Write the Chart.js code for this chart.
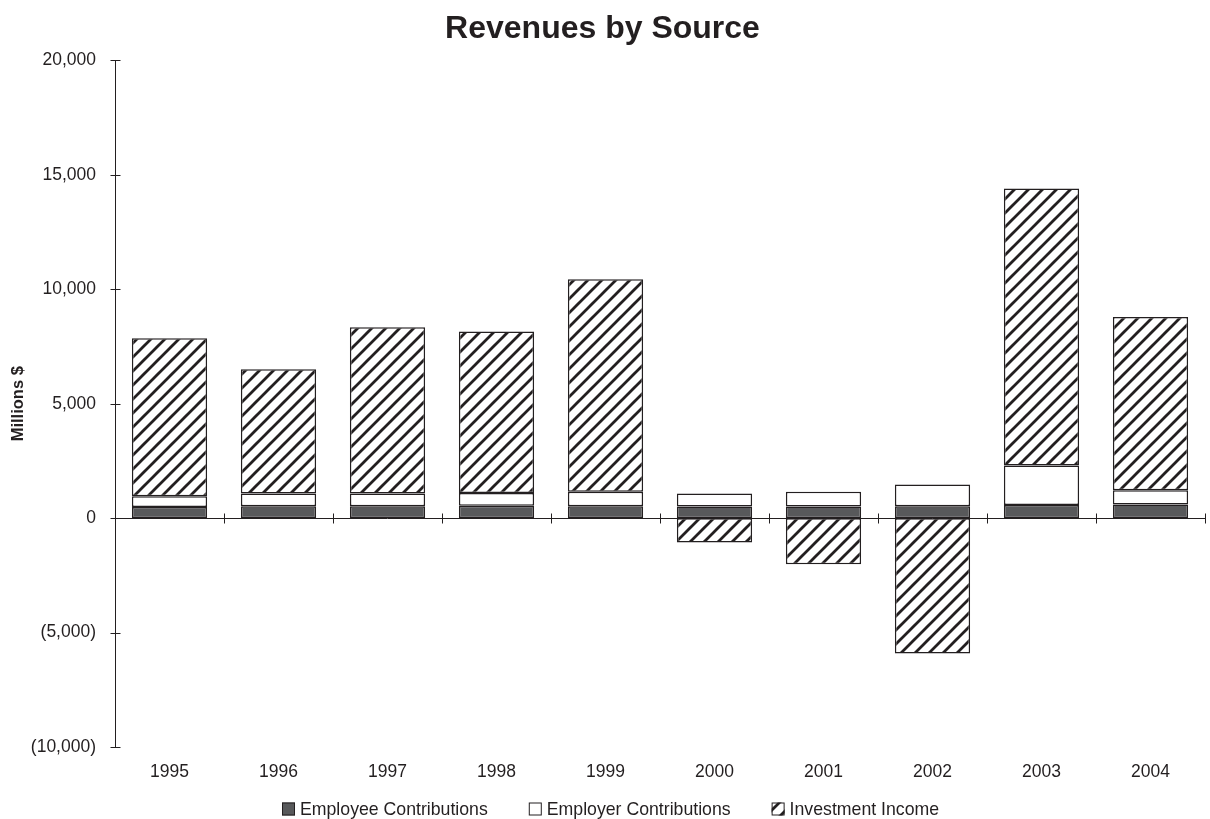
<!DOCTYPE html>
<html>
<head>
<meta charset="utf-8">
<title>Revenues by Source</title>
<script src="https://cdn.jsdelivr.net/npm/chart.js@4.4.1/dist/chart.umd.min.js"></script>
<style>
  html, body { margin: 0; padding: 0; background: #fff; }
  #wrap { width: 1210px; height: 819px; }
</style>
</head>
<body>
<div id="wrap"><canvas id="revChart" width="1210" height="819"></canvas></div>
<script>
const years = ['1995', '1996', '1997', '1998', '1999', '2000', '2001', '2002', '2003', '2004'];
const employeeContrib = [490, 520, 520, 540, 520, 510, 510, 520, 570, 600];
const employerContrib = [470, 560, 560, 560, 630, 570, 640, 950, 1730, 620];
const investmentIncome = [6900, 5430, 7260, 7050, 9290, -1060, -2010, -5910, 12100, 7570];
const yTicks = [-10000, -5000, 0, 5000, 10000, 15000, 20000];

const INK = '#231f20';
const FONT = '"Liberation Sans", Arial, Helvetica, sans-serif';

// diagonal hatch used for investment income
function hatch() {
  const s = 14;
  const c = document.createElement('canvas');
  c.width = s; c.height = s;
  const g = c.getContext('2d');
  g.fillStyle = '#fff';
  g.fillRect(0, 0, s, s);
  g.strokeStyle = INK;
  g.lineWidth = 2.8;
  g.beginPath();
  g.moveTo(-2, s + 2); g.lineTo(s + 2, -2);
  g.moveTo(-2, 2); g.lineTo(2, -2);
  g.moveTo(s - 2, s + 2); g.lineTo(s + 2, s - 2);
  g.stroke();
  return g.createPattern(c, 'repeat');
}

function fmt(v) {
  const s = Math.abs(v).toLocaleString('en-US');
  return v < 0 ? '(' + s + ')' : s;
}

// zero line with crossing ticks, and crossing ticks on the value axis
const axisMarks = {
  id: 'axisMarks',
  beforeDatasetsDraw(chart) {
    const { ctx, chartArea, scales } = chart;
    const xs = scales.x, ys = scales.y;
    const y0 = Math.round(ys.getPixelForValue(0)) + 0.5;
    ctx.save();
    ctx.strokeStyle = INK;
    ctx.lineWidth = 1;
    ctx.beginPath();
    ctx.moveTo(chartArea.left, y0);
    ctx.lineTo(chartArea.right, y0);
    for (let i = 0; i <= years.length; i++) {
      const x = Math.round(xs.getPixelForValue(i - 0.5)) + 0.5;
      ctx.moveTo(x, y0 - 5);
      ctx.lineTo(x, y0 + 5);
    }
    const ax = Math.round(chartArea.left) + 0.5;
    yTicks.forEach(v => {
      const y = Math.round(ys.getPixelForValue(v)) + 0.5;
      ctx.moveTo(ax - 5, y);
      ctx.lineTo(ax + 5, y);
    });
    ctx.stroke();
    ctx.restore();
  }
};

// legend row under the year labels, boxes filled like the datasets
const bottomLegend = {
  id: 'bottomLegend',
  afterDraw(chart) {
    const { ctx } = chart;
    const box = 13, gap = 5, between = 41, midY = 809;
    let x = 282;
    ctx.save();
    ctx.font = '17.7px ' + FONT;
    ctx.textBaseline = 'middle';
    chart.data.datasets.forEach(ds => {
      ctx.fillStyle = ds.backgroundColor;
      ctx.fillRect(x, midY - box / 2, box, box);
      ctx.strokeStyle = INK;
      ctx.lineWidth = 1;
      ctx.strokeRect(x + 0.5, midY - box / 2 + 0.5, box - 1, box - 1);
      ctx.fillStyle = INK;
      ctx.fillText(ds.label, x + box + gap, midY + 1);
      x += box + gap + ctx.measureText(ds.label).width + between;
    });
    ctx.restore();
  }
};

const ctx = document.getElementById('revChart').getContext('2d');
new Chart(ctx, {
  type: 'bar',
  data: {
    labels: years,
    datasets: [
      { label: 'Employee Contributions', data: employeeContrib, backgroundColor: '#58595b' },
      { label: 'Employer Contributions', data: employerContrib, backgroundColor: '#ffffff' },
      { label: 'Investment Income', data: investmentIncome, backgroundColor: hatch() }
    ].map(d => Object.assign(d, {
      borderColor: INK,
      borderWidth: 1.5,
      borderSkipped: false,
      categoryPercentage: 1,
      barPercentage: 0.69
    }))
  },
  plugins: [axisMarks, bottomLegend],
  options: {
    responsive: false,
    animation: false,
    layout: { padding: { left: 0, right: 5, top: 0, bottom: 21 } },
    plugins: {
      tooltip: { enabled: false },
      legend: { display: false },
      title: {
        display: true,
        text: 'Revenues by Source',
        color: INK,
        font: { family: FONT, size: 32, weight: 'bold' },
        padding: { top: 10, bottom: 12 }
      }
    },
    scales: {
      x: {
        stacked: true,
        grid: { display: false, drawTicks: false },
        border: { display: false },
        ticks: { color: INK, font: { family: FONT, size: 17.5 }, padding: 15, maxRotation: 0 }
      },
      y: {
        stacked: true,
        min: -10000,
        max: 20000,
        afterFit(scale) { scale.width = 115; },
        afterBuildTicks(scale) { scale.ticks = yTicks.map(v => ({ value: v })); },
        grid: { display: false, drawTicks: false },
        border: { display: true, color: INK, width: 1 },
        ticks: { color: INK, font: { family: FONT, size: 17.5 }, padding: 19, callback: v => fmt(v) },
        title: {
          display: true,
          text: 'Millions $',
          color: INK,
          font: { family: FONT, size: 16.5, weight: 'bold' },
          padding: { top: 9, bottom: 0 }
        }
      }
    }
  }
});
</script>
</body>
</html>
